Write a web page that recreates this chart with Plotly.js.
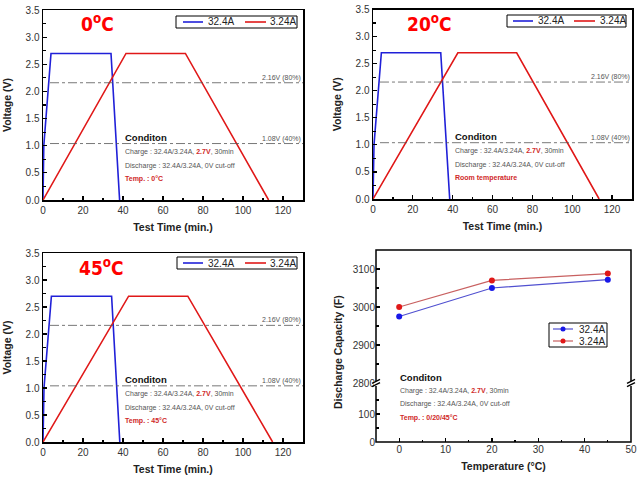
<!DOCTYPE html>
<html>
<head>
<meta charset="utf-8">
<script src="https://cdn.plot.ly/plotly-3.0.1.min.js"></script>
<style>html,body{margin:0;padding:0;background:#fff;}#chart{width:638px;height:478px;}</style>
</head>
<body>
<div id="chart"></div>
<script>
// ---- data ----
const seriesNames = ['32.4A', '3.24A'];
const tFast0 = [0, 0.4, 4.0, 34.0, 38.3];
const vFast0 = [0, 1.0, 2.7, 2.7, 0];
const tSlow0 = [0, 41.5, 71.2, 112.8];
const vSlow0 = [0, 2.7, 2.7, 0];
const tFast20 = [0, 0.5, 4.2, 34.0, 38.5];
const vFast20 = [0, 1.0, 2.7, 2.7, 0];
const tSlow20 = [0, 42.6, 72.1, 113.5];
const vSlow20 = [0, 2.7, 2.7, 0];
const tFast45 = [0, 0.5, 4.2, 34.3, 38.4];
const vFast45 = [0, 1.0, 2.7, 2.7, 0];
const tSlow45 = [0, 42.8, 72.4, 114.8];
const vSlow45 = [0, 2.7, 2.7, 0];
const refLevels = [2.16, 1.04];
const refLabels = ['2.16V (80%)', '1.08V (40%)'];
const temps = [0, 20, 45];
const cap32 = [2975, 3050, 3072];
const cap324 = [3000, 3070, 3088];
const panelTemps = ['0', '20', '45'];
const tempNotes = ['Temp. : 0°C', 'Room temperature', 'Temp. : 45°C'];
const noteCond = 'Conditon';
const noteCharge = 'Charge : 32.4A/3.24A, <span style="color:#d02828"><b>2.7V</b></span>, 30min';
const noteDischarge = 'Discharge : 32.4A/3.24A, 0V cut-off';
const note4Temp = 'Temp. : 0/20/45°C';

// ---- helpers ----
const W = 638, H = 478;
const px = v => v / W;
const py = v => 1 - v / H;
const FONT = 'Liberation Sans, Arial, sans-serif';
const BIGFONT = 'Liberation Sans Narrow, DejaVu Sans Condensed, Liberation Sans, Arial, sans-serif';
const BLUE = '#2020d8', RED = '#e01818';

const panels = [
  {t: [tFast0, tSlow0], v: [vFast0, vSlow0], xa: 'x', ya: 'y', dom: [43, 303, 10, 200],
   leg: {box: [176, 297, 16, 28], s: [[183, 203], [245, 266]], tx: [207, 269]}, tl: [79, 23]},
  {t: [tFast20, tSlow20], v: [vFast20, vSlow20], xa: 'x2', ya: 'y2', dom: [373, 632, 9.5, 199],
   leg: {box: [507, 626, 15, 27], s: [[513, 533], [574, 595]], tx: [537, 599]}, tl: [405, 23]},
  {t: [tFast45, tSlow45], v: [vFast45, vSlow45], xa: 'x3', ya: 'y3', dom: [43, 303, 253, 442],
   leg: {box: [177, 297, 257, 269], s: [[183, 203], [245, 266]], tx: [207, 269]}, tl: [77, 267]}
];

const traces = [];
const layout = {
  width: W, height: H,
  margin: {l: 0, r: 0, t: 0, b: 0},
  paper_bgcolor: '#fff', plot_bgcolor: '#fff',
  font: {family: FONT, size: 10, color: '#333'},
  showlegend: false,
  annotations: [], shapes: []
};

function voltAxis(i, p) {
  const sfx = i === 0 ? '' : String(i + 1);
  layout['xaxis' + sfx] = {
    domain: [px(p.dom[0]), px(p.dom[1])], anchor: 'y' + sfx,
    range: [0, 130], dtick: 20, tick0: 0,
    ticks: 'inside', ticklen: 4, tickwidth: 1.2, tickcolor: '#000',
    minor: {dtick: 10, ticks: 'inside', ticklen: 2.5, tickcolor: '#000'},
    showline: true, linecolor: '#000', linewidth: 1.5, mirror: true,
    showgrid: false, zeroline: false, fixedrange: true,
    tickfont: {size: 10, color: '#333'},
    title: {text: '<b>Test Time (min.)</b>', font: {size: 10.5, color: '#222'}, standoff: 9}
  };
  layout['yaxis' + sfx] = {
    domain: [py(p.dom[3]), py(p.dom[2])], anchor: 'x' + sfx,
    range: [0, 3.5], dtick: 0.5, tick0: 0, tickformat: '.1f',
    ticks: 'inside', ticklen: 4, tickwidth: 1.2, tickcolor: '#000',
    minor: {dtick: 0.25, ticks: 'inside', ticklen: 2.5, tickcolor: '#000'},
    showline: true, linecolor: '#000', linewidth: 1.5, mirror: true,
    showgrid: false, zeroline: false, fixedrange: true,
    tickfont: {size: 10, color: '#333'},
    title: {text: '<b>Voltage (V)</b>', font: {size: 10.5, color: '#222'}, standoff: 12}
  };
}

function lineLegend(lg) {
  layout.shapes.push({type: 'rect', xref: 'paper', yref: 'paper', x0: px(lg.box[0]), x1: px(lg.box[1]),
    y0: py(lg.box[3]), y1: py(lg.box[2]), line: {color: '#000', width: 1}, fillcolor: '#fff', layer: 'above'});
  const ym = (lg.box[2] + lg.box[3]) / 2;
  [BLUE, RED].forEach((c, k) => {
    layout.shapes.push({type: 'line', xref: 'paper', yref: 'paper', x0: px(lg.s[k][0]), x1: px(lg.s[k][1]),
      y0: py(ym), y1: py(ym), line: {color: c, width: 1.6}, layer: 'above'});
    layout.annotations.push({xref: 'paper', yref: 'paper', x: px(lg.tx[k]), y: py(ym), xanchor: 'left', yanchor: 'middle',
      text: seriesNames[k], showarrow: false, font: {size: 10, color: '#222'}, borderpad: 0});
  });
}

panels.forEach((p, i) => {
  voltAxis(i, p);
  [BLUE, RED].forEach((c, k) => {
    traces.push({
      x: p.t[k], y: p.v[k], xaxis: p.xa, yaxis: p.ya,
      type: 'scatter', mode: 'lines', name: seriesNames[k],
      line: {color: c, width: 1.6}, hoverinfo: 'skip'
    });
  });
  lineLegend(p.leg);
  refLevels.forEach((lv, k) => {
    layout.shapes.push({type: 'line', xref: p.xa, yref: p.ya, x0: 3.5, x1: 130, y0: lv, y1: lv,
      line: {color: '#555', width: 0.8, dash: 'dashdot'}});
    layout.annotations.push({xref: p.xa, yref: p.ya, x: 129.5, y: lv, xanchor: 'right', yanchor: 'bottom',
      text: refLabels[k], showarrow: false, font: {size: 7, color: '#555'}, borderpad: 0});
  });
  const notes = [
    {t: '<b>' + noteCond + '</b>', y: 1.15, f: {size: 9.5, color: '#111'}},
    {t: noteCharge, y: 0.89, f: {size: 7, color: '#555'}},
    {t: noteDischarge, y: 0.635, f: {size: 7, color: '#555'}},
    {t: '<b>' + tempNotes[i] + '</b>', y: 0.39, f: {size: 7, color: '#d02828'}}
  ];
  notes.forEach(n => layout.annotations.push({xref: p.xa, yref: p.ya, x: 40, y: n.y, xanchor: 'left', yanchor: 'middle',
    text: n.t, showarrow: false, font: n.f}));
  layout.annotations.push({xref: 'paper', yref: 'paper', x: px(p.tl[0]), y: py(p.tl[1]), xanchor: 'left', yanchor: 'middle',
    text: '<b>' + panelTemps[i] + '<sup>o</sup>C</b>', showarrow: false, font: {family: BIGFONT, size: 19, color: '#ff0000'}});
});

// ---- panel 4 ----
const d4 = [376, 631, 250, 383, 442];
const lowTop = 199;               // top of the lower (0..199) axis segment
const lowPx = d4[4] - lowTop * 0.28; // 28 px per 100 F
layout.xaxis4 = {
  domain: [px(d4[0]), px(d4[1])], anchor: 'y4',
  range: [-5, 50], dtick: 10, tick0: 0,
  ticks: 'inside', ticklen: 4, tickwidth: 1.2, tickcolor: '#000',
  minor: {dtick: 5, ticks: 'inside', ticklen: 2.5, tickcolor: '#000'},
  showline: false, showgrid: false, zeroline: false, fixedrange: true,
  tickfont: {size: 10, color: '#333'},
  title: {text: '<b>Temperature (°C)</b>', font: {size: 10.5, color: '#222'}, standoff: 8}
};
layout.yaxis4 = {
  domain: [py(d4[4]), py(lowPx)], anchor: 'x4',
  range: [0, lowTop], tickmode: 'linear', tick0: 0, dtick: 100,
  ticks: 'inside', ticklen: 4, tickwidth: 1.2, tickcolor: '#000',
  minor: {dtick: 50, ticks: 'inside', ticklen: 2.5, tickcolor: '#000'},
  showline: false, showgrid: false, zeroline: false, fixedrange: true,
  tickfont: {size: 10, color: '#333'}
};
layout.yaxis5 = {
  domain: [py(d4[3]), py(d4[2])], anchor: 'x4',
  range: [2800, 3150], dtick: 100, tick0: 2800,
  ticks: 'inside', ticklen: 4, tickwidth: 1.2, tickcolor: '#000',
  minor: {dtick: 50, ticks: 'inside', ticklen: 2.5, tickcolor: '#000'},
  showline: false, showgrid: false, zeroline: false, fixedrange: true,
  tickfont: {size: 10, color: '#333'}
};
// empty trace so that the lower (broken) segment of the axis exists
traces.push({x: [], y: [], xaxis: 'x4', yaxis: 'y4', type: 'scatter', mode: 'lines', hoverinfo: 'skip'});
const capColors = [{line: '#5050d0', mk: '#1818e8'}, {line: '#c86060', mk: '#e01818'}];
[cap32, cap324].forEach((cv, k) => traces.push({x: temps, y: cv, xaxis: 'x4', yaxis: 'y5', type: 'scatter',
  mode: 'lines+markers', name: seriesNames[k], line: {color: capColors[k].line, width: 1.2},
  marker: {color: capColors[k].mk, size: 6}, hoverinfo: 'skip'}));
// legend of panel 4
layout.shapes.push({type: 'rect', xref: 'paper', yref: 'paper', x0: px(549), x1: px(607), y0: py(347), y1: py(323),
  line: {color: '#000', width: 1}, fillcolor: '#fff', layer: 'above'});
[329, 341].forEach((yy, k) => {
  layout.shapes.push({type: 'line', xref: 'paper', yref: 'paper', x0: px(553), x1: px(573), y0: py(yy), y1: py(yy),
    line: {color: capColors[k].line, width: 1.2}, layer: 'above'});
  layout.shapes.push({type: 'circle', xref: 'paper', yref: 'paper', x0: px(560.5), x1: px(565.5), y0: py(yy + 2.5), y1: py(yy - 2.5),
    line: {width: 0}, fillcolor: capColors[k].mk, layer: 'above'});
  layout.annotations.push({xref: 'paper', yref: 'paper', x: px(578), y: py(yy), xanchor: 'left', yanchor: 'middle',
    text: seriesNames[k], showarrow: false, font: {size: 10, color: '#222'}, borderpad: 0});
});
// frame
layout.shapes.push({type: 'rect', xref: 'paper', yref: 'paper', x0: px(d4[0]), x1: px(d4[1]), y0: py(d4[4]), y1: py(d4[2]),
  line: {color: '#000', width: 1.5}, layer: 'above'});
// axis break marks
[d4[0], d4[1]].forEach(xx => {
  layout.shapes.push({type: 'rect', xref: 'paper', yref: 'paper', x0: px(xx - 2), x1: px(xx + 2), y0: py(386), y1: py(381),
    line: {width: 0}, fillcolor: '#fff', layer: 'above'});
  [-1.6, 1.6].forEach(o => layout.shapes.push({type: 'line', xref: 'paper', yref: 'paper',
    x0: px(xx - 4), y0: py(d4[3] + o + 2), x1: px(xx + 4), y1: py(d4[3] + o - 2),
    line: {color: '#000', width: 1.3}, layer: 'above'}));
});
layout.annotations.push({xref: 'paper', yref: 'paper', x: px(338), y: py(352), xanchor: 'center', yanchor: 'middle', textangle: -90,
  text: '<b>Discharge Capacity (F)</b>', showarrow: false, font: {size: 10.5, color: '#222'}});
const n4 = [
  {t: '<b>' + noteCond + '</b>', y: 377, f: {size: 9.5, color: '#111'}},
  {t: noteCharge, y: 391, f: {size: 7, color: '#555'}},
  {t: noteDischarge, y: 404, f: {size: 7, color: '#555'}},
  {t: '<b>' + note4Temp + '</b>', y: 418, f: {size: 7, color: '#d02828'}}
];
n4.forEach(n => layout.annotations.push({xref: 'paper', yref: 'paper', x: px(398), y: py(n.y), xanchor: 'left', yanchor: 'middle',
  text: n.t, showarrow: false, font: n.f}));

Plotly.newPlot('chart', traces, layout, {displayModeBar: false, staticPlot: true});
</script>
</body>
</html>
